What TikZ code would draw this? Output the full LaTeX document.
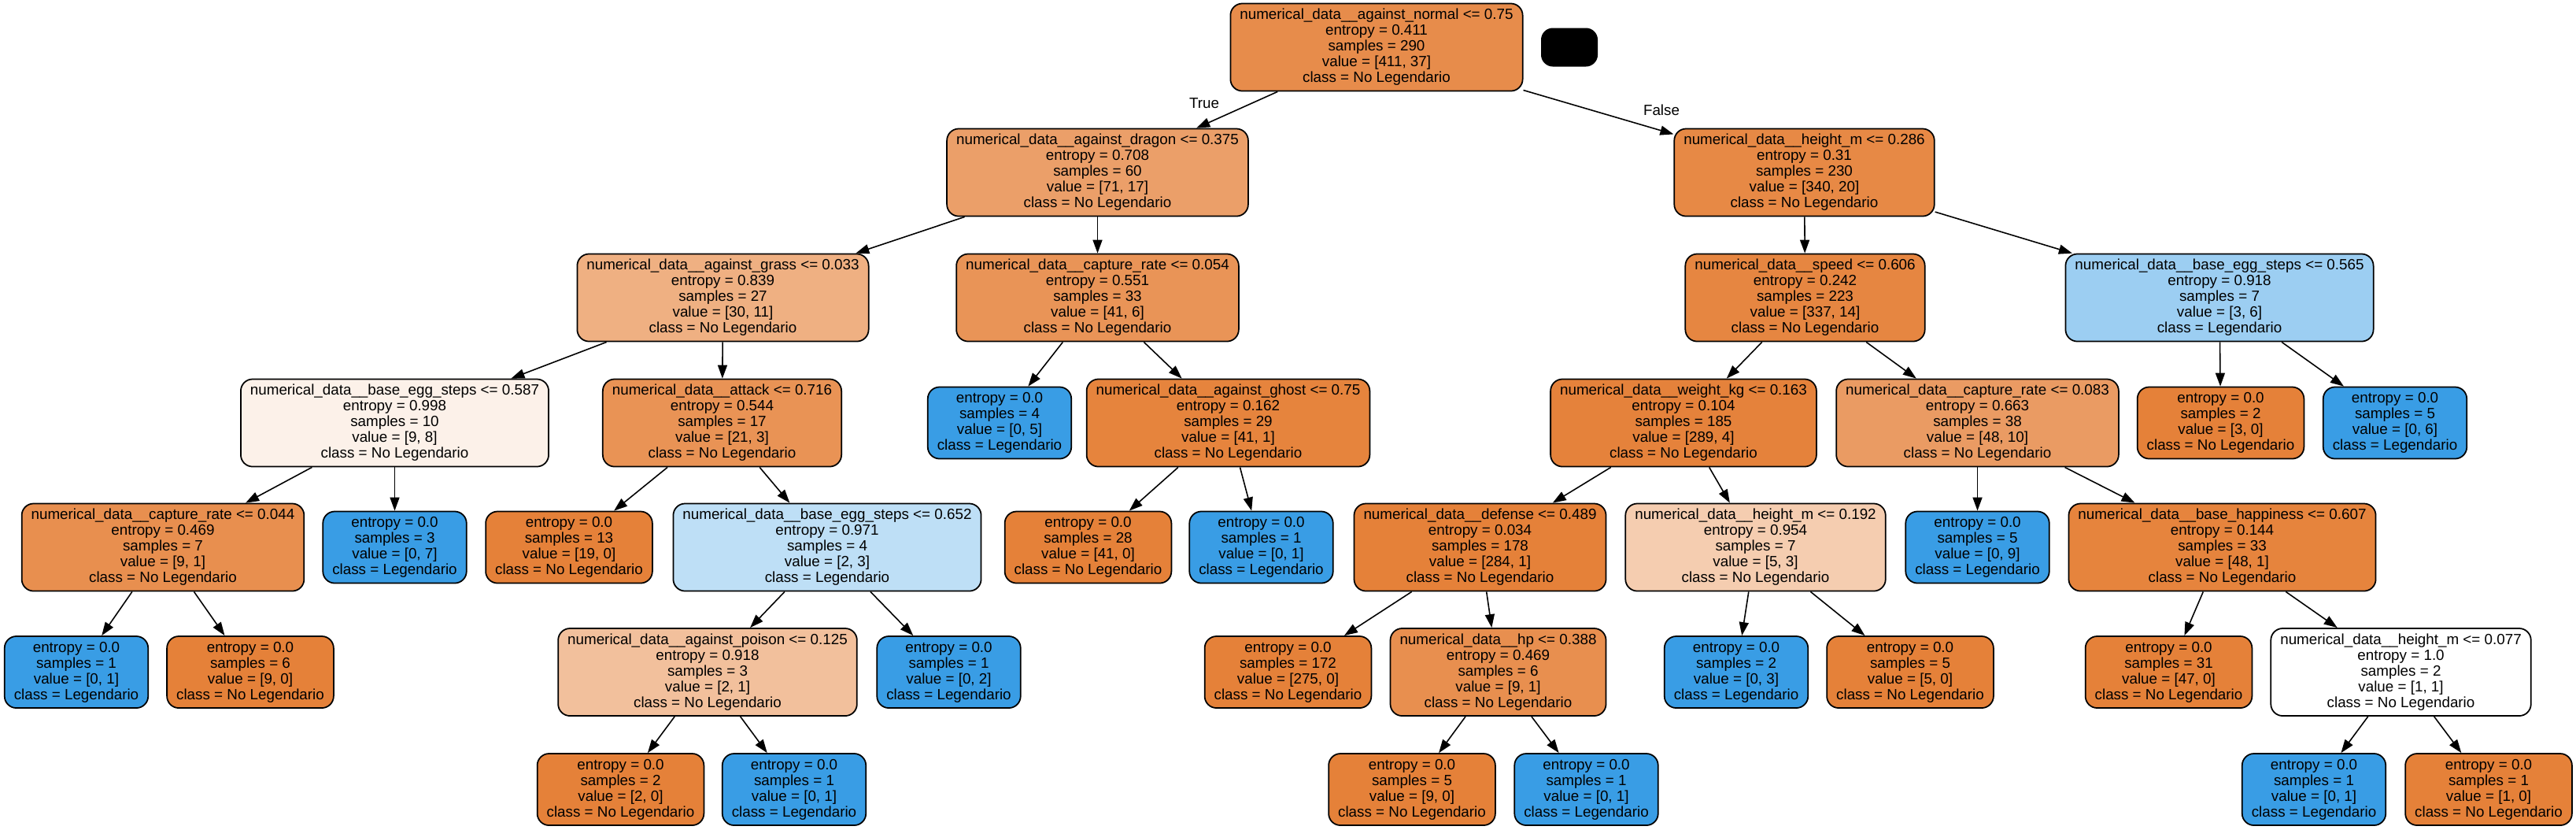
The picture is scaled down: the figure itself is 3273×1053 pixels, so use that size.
\documentclass[tikz,border=0pt]{standalone}
\usepackage{fontspec}
\setmainfont{Liberation Sans}
\usepackage{xcolor}
\usepackage{tikz}
\usetikzlibrary{arrows.meta}
\definecolor{nolegend}{HTML}{E58139}
\definecolor{legend}{HTML}{399DE5}
\tikzstyle{splitbox} = [draw, line width=0.5pt, rounded corners=0.15cm, align=center, inner xsep=0.12cm, inner ysep=0.02cm, minimum height=1.11cm, font=\fontsize{5.35}{5.69}\selectfont]
\tikzstyle{leafbox} = [splitbox, minimum height=0.91cm]
\tikzstyle{arrow} = [line width=0.45pt, -{Triangle[length=0.17cm,width=0.12cm]}]

\begin{document}
\begin{tikzpicture}[x=0.01cm,y=-0.01cm]
	\useasboundingbox (0,0) rectangle (3273,1053);
	
	% Root:
	\node[splitbox, fill=nolegend!91] (root) at (1749,60) {numerical\_data\_\_against\_normal <= 0.75\\entropy = 0.411\\samples = 290\\value = [411, 37]\\class = No Legendario};
	\node[fill=black, rounded corners=0.15cm, minimum width=0.72cm, minimum height=0.49cm, inner sep=0pt] (blot) at (1994,60) {};
	
	% Level 1:
	\node[splitbox, fill=nolegend!76] (dragon) at (1394.5,219) {numerical\_data\_\_against\_dragon <= 0.375\\entropy = 0.708\\samples = 60\\value = [71, 17]\\class = No Legendario};
	\node[splitbox, fill=nolegend!94] (hgtA) at (2292.5,219) {numerical\_data\_\_height\_m <= 0.286\\entropy = 0.31\\samples = 230\\value = [340, 20]\\class = No Legendario};
	
	% Level 2:
	\node[splitbox, fill=nolegend!63] (grass) at (918.5,378) {numerical\_data\_\_against\_grass <= 0.033\\entropy = 0.839\\samples = 27\\value = [30, 11]\\class = No Legendario};
	\node[splitbox, fill=nolegend!85] (capA) at (1394.5,378) {numerical\_data\_\_capture\_rate <= 0.054\\entropy = 0.551\\samples = 33\\value = [41, 6]\\class = No Legendario};
	\node[splitbox, fill=nolegend!96] (speed) at (2293.5,378) {numerical\_data\_\_speed <= 0.606\\entropy = 0.242\\samples = 223\\value = [337, 14]\\class = No Legendario};
	\node[splitbox, fill=legend!50] (eggA) at (2820,378) {numerical\_data\_\_base\_egg\_steps <= 0.565\\entropy = 0.918\\samples = 7\\value = [3, 6]\\class = Legendario};
	
	% Level 3:
	\node[splitbox, fill=nolegend!11] (eggB) at (501.5,537) {numerical\_data\_\_base\_egg\_steps <= 0.587\\entropy = 0.998\\samples = 10\\value = [9, 8]\\class = No Legendario};
	\node[splitbox, fill=nolegend!86] (attack) at (917.5,537) {numerical\_data\_\_attack <= 0.716\\entropy = 0.544\\samples = 17\\value = [21, 3]\\class = No Legendario};
	\node[leafbox, fill=legend] (lfA) at (1270,537) {entropy = 0.0\\samples = 4\\value = [0, 5]\\class = Legendario};
	\node[splitbox, fill=nolegend!98] (ghost) at (1560.5,537) {numerical\_data\_\_against\_ghost <= 0.75\\entropy = 0.162\\samples = 29\\value = [41, 1]\\class = No Legendario};
	\node[splitbox, fill=nolegend!99] (weight) at (2139,537) {numerical\_data\_\_weight\_kg <= 0.163\\entropy = 0.104\\samples = 185\\value = [289, 4]\\class = No Legendario};
	\node[splitbox, fill=nolegend!79] (capB) at (2512.5,537) {numerical\_data\_\_capture\_rate <= 0.083\\entropy = 0.663\\samples = 38\\value = [48, 10]\\class = No Legendario};
	\node[leafbox, fill=nolegend] (lfB) at (2821.5,537) {entropy = 0.0\\samples = 2\\value = [3, 0]\\class = No Legendario};
	\node[leafbox, fill=legend] (lfC) at (3043,537) {entropy = 0.0\\samples = 5\\value = [0, 6]\\class = Legendario};
	
	% Level 4:
	\node[splitbox, fill=nolegend!89] (capC) at (207,695) {numerical\_data\_\_capture\_rate <= 0.044\\entropy = 0.469\\samples = 7\\value = [9, 1]\\class = No Legendario};
	\node[leafbox, fill=legend] (lfD) at (501.5,695) {entropy = 0.0\\samples = 3\\value = [0, 7]\\class = Legendario};
	\node[leafbox, fill=nolegend] (lfE) at (723,695) {entropy = 0.0\\samples = 13\\value = [19, 0]\\class = No Legendario};
	\node[splitbox, fill=legend!33] (eggC) at (1051,695) {numerical\_data\_\_base\_egg\_steps <= 0.652\\entropy = 0.971\\samples = 4\\value = [2, 3]\\class = Legendario};
	\node[leafbox, fill=nolegend] (lfF) at (1382.5,695) {entropy = 0.0\\samples = 28\\value = [41, 0]\\class = No Legendario};
	\node[leafbox, fill=legend] (lfG) at (1602.5,695) {entropy = 0.0\\samples = 1\\value = [0, 1]\\class = Legendario};
	\node[splitbox, fill=nolegend!100] (defense) at (1880.5,695) {numerical\_data\_\_defense <= 0.489\\entropy = 0.034\\samples = 178\\value = [284, 1]\\class = No Legendario};
	\node[splitbox, fill=nolegend!40] (hgtB) at (2230.5,695) {numerical\_data\_\_height\_m <= 0.192\\entropy = 0.954\\samples = 7\\value = [5, 3]\\class = No Legendario};
	\node[leafbox, fill=legend] (lfH) at (2512.5,695) {entropy = 0.0\\samples = 5\\value = [0, 9]\\class = Legendario};
	\node[splitbox, fill=nolegend!98] (happy) at (2823.5,695) {numerical\_data\_\_base\_happiness <= 0.607\\entropy = 0.144\\samples = 33\\value = [48, 1]\\class = No Legendario};
	
	% Level 5:
	\node[leafbox, fill=legend] (lfI) at (97,853.5) {entropy = 0.0\\samples = 1\\value = [0, 1]\\class = Legendario};
	\node[leafbox, fill=nolegend] (lfJ) at (318,853.5) {entropy = 0.0\\samples = 6\\value = [9, 0]\\class = No Legendario};
	\node[splitbox, fill=nolegend!50] (poison) at (899,853.5) {numerical\_data\_\_against\_poison <= 0.125\\entropy = 0.918\\samples = 3\\value = [2, 1]\\class = No Legendario};
	\node[leafbox, fill=legend] (lfK) at (1205.5,853.5) {entropy = 0.0\\samples = 1\\value = [0, 2]\\class = Legendario};
	\node[leafbox, fill=nolegend] (lfL) at (1636.5,853.5) {entropy = 0.0\\samples = 172\\value = [275, 0]\\class = No Legendario};
	\node[splitbox, fill=nolegend!89] (hp) at (1903.5,853.5) {numerical\_data\_\_hp <= 0.388\\entropy = 0.469\\samples = 6\\value = [9, 1]\\class = No Legendario};
	\node[leafbox, fill=legend] (lfM) at (2206,853.5) {entropy = 0.0\\samples = 2\\value = [0, 3]\\class = Legendario};
	\node[leafbox, fill=nolegend] (lfN) at (2427,853.5) {entropy = 0.0\\samples = 5\\value = [5, 0]\\class = No Legendario};
	\node[leafbox, fill=nolegend] (lfO) at (2755.5,853.5) {entropy = 0.0\\samples = 31\\value = [47, 0]\\class = No Legendario};
	\node[splitbox, fill=white] (hgtC) at (3050.5,853.5) {numerical\_data\_\_height\_m <= 0.077\\entropy = 1.0\\samples = 2\\value = [1, 1]\\class = No Legendario};
	
	% Level 6:
	\node[leafbox, fill=nolegend] (lfP) at (788.5,1002.5) {entropy = 0.0\\samples = 2\\value = [2, 0]\\class = No Legendario};
	\node[leafbox, fill=legend] (lfQ) at (1009,1002.5) {entropy = 0.0\\samples = 1\\value = [0, 1]\\class = Legendario};
	\node[leafbox, fill=nolegend] (lfR) at (1794,1002.5) {entropy = 0.0\\samples = 5\\value = [9, 0]\\class = No Legendario};
	\node[leafbox, fill=legend] (lfS) at (2015.5,1002.5) {entropy = 0.0\\samples = 1\\value = [0, 1]\\class = Legendario};
	\node[leafbox, fill=legend] (lfT) at (2940,1002.5) {entropy = 0.0\\samples = 1\\value = [0, 1]\\class = Legendario};
	\node[leafbox, fill=nolegend] (lfU) at (3162,1002.5) {entropy = 0.0\\samples = 1\\value = [1, 0]\\class = No Legendario};
	
	% Edges:
	\foreach \a/\b in {root/dragon, root/hgtA, dragon/grass, dragon/capA, hgtA/speed, hgtA/eggA,
		grass/eggB, grass/attack, capA/lfA, capA/ghost, speed/weight, speed/capB, eggA/lfB, eggA/lfC,
		eggB/capC, eggB/lfD, attack/lfE, attack/eggC, ghost/lfF, ghost/lfG, weight/defense, weight/hgtB,
		capB/lfH, capB/happy, capC/lfI, capC/lfJ, eggC/poison, eggC/lfK, defense/lfL, defense/hp,
		hgtB/lfM, hgtB/lfN, happy/lfO, happy/hgtC, poison/lfP, poison/lfQ, hp/lfR, hp/lfS,
		hgtC/lfT, hgtC/lfU}
		\draw[arrow] (\a) -- (\b);
	
	% Branch labels:
	\node[font=\fontsize{5.35}{5.69}\selectfont] (truelbl) at (1530,131) {True};
	\node[font=\fontsize{5.35}{5.69}\selectfont] (falselbl) at (2111,140) {False};
	
\end{tikzpicture}
\end{document}
